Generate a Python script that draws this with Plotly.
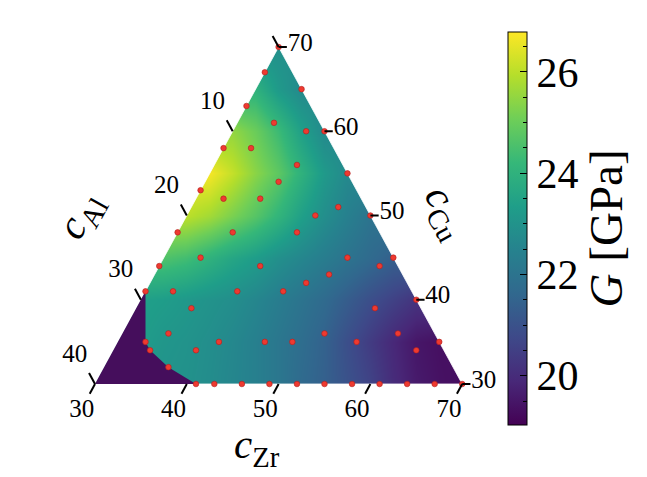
import numpy as np
import plotly.graph_objects as go

# ---------------- data ----------------
# measured compositions (at.%) : Zr and Cu, Al = 100 - Zr - Cu
dot_zr = [30, 30, 35, 30, 34, 38, 40, 30, 33, 39, 45, 38, 30, 33, 37, 46, 44, 50,
          30, 36, 43, 34, 50, 55, 30, 41, 54, 49, 47, 30, 33, 40, 45, 60, 36, 56,
          35, 52, 60, 33, 41, 46, 49, 56, 65, 34, 39, 63, 37,
          41, 43, 46, 49, 52, 55, 58, 61, 64, 67, 70]
dot_cu = [70, 67, 65, 63, 61, 60, 60, 58, 58, 56, 55, 54, 53, 52, 52, 51, 50, 50,
          48, 48, 48, 45, 45, 45, 44, 44, 44, 43, 42, 41, 41, 41, 41, 40, 39, 39,
          36, 36, 36, 35, 35, 35, 35, 35, 35, 34, 34, 34, 32,
          30, 30, 30, 30, 30, 30, 30, 30, 30, 30, 30]

# shear modulus map G [GPa] read on a regular grid of the ternary plane
field_x = [0, 2.5, 5, 7.5, 10, 12.5, 15, 17.5, 20, 22.5, 25, 27.5, 30, 32.5, 35, 37.5, 40]
field_cu = [30, 35, 40, 45, 50, 55, 60, 65, 70]
field_G = [
    [23.0, 23.0, 23.0, 23.0, 22.95, 22.8, 22.6, 22.4, 22.1, 21.7, 21.4, 21.0, 20.6, 20.0, 19.6, 19.4, 19.3],
    [23.3, 23.3, 23.3, 23.1, 23.0, 22.85, 22.65, 22.4, 22.1, 21.8, 21.45, 20.9, 20.4, 19.9, 19.5, 19.35, 19.35],
    [23.5, 23.5, 23.4, 23.3, 23.15, 23.0, 22.85, 22.6, 22.3, 22.0, 21.7, 21.3, 20.9, 20.55, 20.2, 20.2, 20.2],
    [24.6, 24.6, 24.6, 24.6, 24.4, 24.0, 23.6, 23.3, 22.9, 22.6, 22.3, 22.0, 21.7, 21.4, 21.4, 21.4, 21.4],
    [26.0, 26.0, 26.0, 26.0, 26.0, 25.7, 25.2, 24.7, 24.1, 23.4, 22.85, 22.4, 22.0, 22.0, 22.0, 22.0, 22.0],
    [26.7, 26.7, 26.7, 26.7, 26.7, 26.7, 26.1, 25.4, 24.8, 24.0, 23.2, 22.7, 22.7, 22.7, 22.7, 22.7, 22.7],
    [25.5, 25.5, 25.5, 25.5, 25.5, 25.5, 25.5, 25.0, 24.3, 23.4, 22.7, 22.7, 22.7, 22.7, 22.7, 22.7, 22.7],
    [24.0, 24.0, 24.0, 24.0, 24.0, 24.0, 24.0, 24.0, 23.2, 22.7, 22.7, 22.7, 22.7, 22.7, 22.7, 22.7, 22.7],
    [22.9, 22.9, 22.9, 22.9, 22.9, 22.9, 22.9, 22.9, 22.9, 22.9, 22.9, 22.9, 22.9, 22.9, 22.9, 22.9, 22.9],
]

# region without data (outside the measured hull)
gap_zr = [30, 30, 33, 34, 37, 41]
gap_cu = [30, 41, 35, 34, 32, 30]

# axis ticks
zr_ticks = [30, 40, 50, 60, 70]
cu_ticks = [30, 40, 50, 60, 70]
al_ticks = [0, 10, 20, 30, 40]
al_labels = ["", "10", "20", "30", "40"]

G_MIN, G_MAX = 19.03, 26.79
cbar_major = [20, 22, 24, 26]
cbar_minor = [19.5, 20.5, 21, 21.5, 22.5, 23, 23.5, 24.5, 25, 25.5, 26.5]

FONT = "Liberation Serif"
PAGE_W, PAGE_H = 647, 477
OFF = 8                      # default page body margin
W, H = PAGE_W - OFF, PAGE_H - OFF
X0, SX = 95 - OFF, 9.18      # pixel of (Zr=30,Cu=30) and px per unit
Y0, SY = 384 - OFF, 8.425


def to_xy(zr, cu):
    zr = np.asarray(zr, float)
    cu = np.asarray(cu, float)
    return zr - 30 + (cu - 30) / 2, cu - 30


cbar_pos = dict(x=(508.3 - OFF) / W, xanchor="left", xpad=0, xref="container",
                y=1 - (228.4 - OFF) / H, yanchor="middle", ypad=0, yref="container",
                len=393.3, lenmode="pixels", thickness=18.5, thicknessmode="pixels")

fig = go.Figure()

# ---- colour field
fig.add_trace(go.Heatmap(
    x=field_x, y=[c - 30 for c in field_cu], z=field_G,
    zsmooth="best", colorscale="Viridis", zmin=G_MIN, zmax=G_MAX,
    hoverinfo="skip",
    colorbar=dict(
        **cbar_pos,
        outlinecolor="black", outlinewidth=1,
        tickmode="array", tickvals=cbar_major,
        ticktext=[str(t) for t in cbar_major],
        ticks="inside", ticklen=7, tickwidth=1, tickcolor="black",
        tickfont=dict(family=FONT, size=42, color="black"),
        title=dict(text="<i>G</i> [GPa]", side="right",
                   font=dict(family=FONT, size=47, color="black")),
    ),
))
# minor ticks of the colour bar (transparent bar on top)
fig.add_trace(go.Heatmap(
    x=[500, 501], y=[500], z=[[G_MIN, G_MAX]], zmin=G_MIN, zmax=G_MAX,
    colorscale=[[0, "rgba(0,0,0,0)"], [1, "rgba(0,0,0,0)"]], hoverinfo="skip",
    colorbar=dict(**cbar_pos, outlinewidth=0, tickmode="array", tickvals=cbar_minor,
                  ticks="inside", ticklen=4, tickwidth=1, tickcolor="black",
                  showticklabels=False),
))

# ---- mask outside triangle
tri_x, tri_y = to_xy([30, 70, 30], [70, 30, 30])  # apex, bottom-right, bottom-left
mask_x = [-3, 43, 43, tri_x[0], tri_x[0], tri_x[1], tri_x[2], tri_x[0], tri_x[0], -3, -3]
mask_y = [-4, -4, 44, 44, tri_y[0], tri_y[1], tri_y[2], tri_y[0], 44, 44, -4]
fig.add_trace(go.Scatter(x=mask_x, y=mask_y, mode="lines", fill="toself",
                         fillcolor="white", line=dict(color="white", width=0.8),
                         hoverinfo="skip", showlegend=False))

# ---- no-data region
gx, gy = to_xy(gap_zr + gap_zr[:1], gap_cu + gap_cu[:1])
fig.add_trace(go.Scatter(x=gx, y=gy, mode="lines", fill="toself",
                         fillcolor="rgb(69,14,92)", line=dict(width=0),
                         hoverinfo="skip", showlegend=False))

# ---- measured points
dx, dy = to_xy(dot_zr, dot_cu)
fig.add_trace(go.Scatter(x=dx, y=dy, mode="markers",
                         marker=dict(size=5.6, color="rgb(238,58,48)",
                                     line=dict(color="rgb(175,30,30)", width=0.6)),
                         hoverinfo="skip", showlegend=False))

# ---- ticks
tx, ty = [], []
lab_x, lab_y, lab_t = [], [], []
for z in zr_ticks:  # bottom edge (Cu = 30)
    x0, y0 = to_xy(z, 30)
    tx += [x0, x0 - 0.5 * 1.15, None]
    ty += [y0, y0 - 1.15, None]
    lab_x.append(x0 - 1.45); lab_y.append(y0 - 3.15); lab_t.append(str(z))
for a, lt in zip(al_ticks, al_labels):  # left edge (Zr = 30)
    x0, y0 = to_xy(30, 70 - a)
    tx += [x0, x0 - 0.5 * 1.3, None]
    ty += [y0, y0 + 1.3, None]
    if lt:
        lab_x.append(x0 - 2.2); lab_y.append(y0 + 3.4); lab_t.append(lt)
for c in cu_ticks:  # right edge (Al = 0)
    x0, y0 = to_xy(100 - c, c)
    tx += [x0, x0 + 0.9, None]
    ty += [y0, y0, None]
    lab_x.append(x0 + 2.35); lab_y.append(y0 + 0.3); lab_t.append(str(c))

fig.add_trace(go.Scatter(x=tx, y=ty, mode="lines", line=dict(color="black", width=2),
                         hoverinfo="skip", showlegend=False, cliponaxis=False))
fig.add_trace(go.Scatter(x=lab_x, y=lab_y, mode="text", text=lab_t,
                         textposition="middle center",
                         textfont=dict(family=FONT, size=25, color="black"),
                         hoverinfo="skip", showlegend=False, cliponaxis=False))

# ---- axis titles
title_font = dict(family=FONT, size=41, color="black")
fig.add_annotation(x=17.6, y=-7.5, text="<i>c</i><sub>Zr</sub>", showarrow=False,
                   font=title_font)
fig.add_annotation(x=-1.5, y=19.9, text="<i>c</i><sub>Al</sub>", showarrow=False,
                   font=title_font, textangle=-61)
fig.add_annotation(x=38.2, y=20.4, text="<i>c</i><sub>Cu</sub>", showarrow=False,
                   font=title_font, textangle=61)

fig.update_xaxes(range=[-X0 / SX, (W - X0) / SX], visible=False, fixedrange=True)
fig.update_yaxes(range=[(Y0 - H) / SY, Y0 / SY], visible=False, fixedrange=True)
fig.update_layout(width=W, height=H,
                  margin=dict(l=0, r=0, t=0, b=0, pad=0, autoexpand=False),
                  plot_bgcolor="white", paper_bgcolor="white", showlegend=False)

fig.write_html("out.html")
